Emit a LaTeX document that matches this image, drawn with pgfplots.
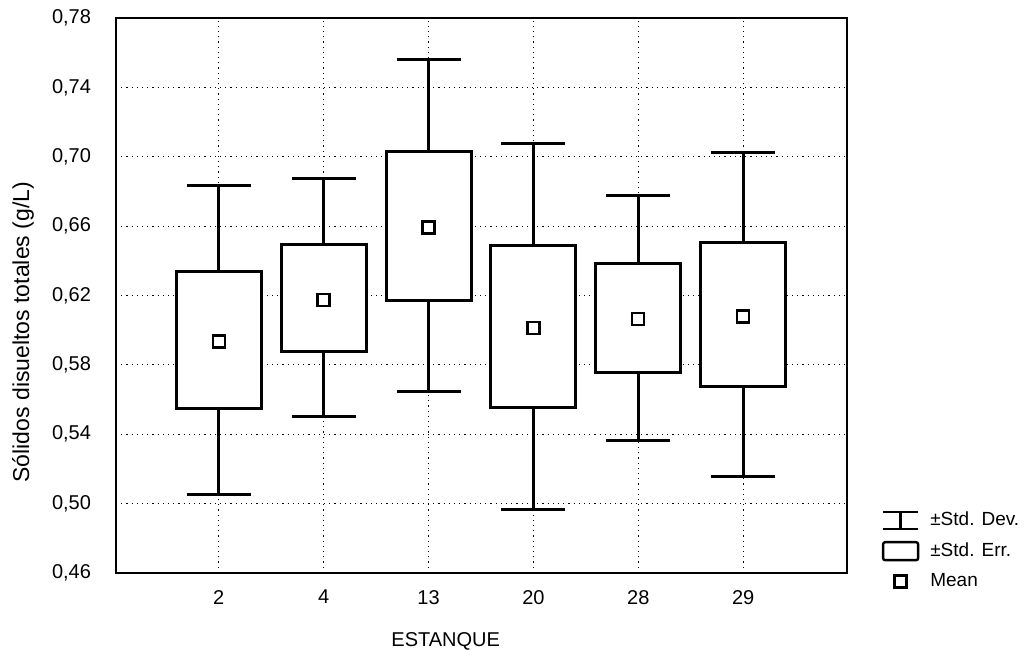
\documentclass[border=0pt]{standalone}
\usepackage{fontspec}
\setmainfont{Liberation Sans}
\usepackage{pgfplots}
\pgfplotsset{compat=1.18}
\usepgfplotslibrary{statistics}

\begin{document}
\begin{tikzpicture}
% page frame
\path[use as bounding box] (-58pt,-38pt) rectangle (457.5pt,286.5pt);
\begin{axis}[
  scale only axis,
  width=365.5pt, height=277.5pt,
  xmin=-0.98, xmax=5.99,
  ymin=0.46, ymax=0.78,
  xtick={0,1,2,3,4,5},
  xticklabels={2,4,13,20,28,29},
  ytick={0.46,0.50,0.54,0.58,0.62,0.66,0.70,0.74,0.78},
  /pgf/number format/assume math mode=true,
  yticklabel style={/pgf/number format/fixed, /pgf/number format/fixed zerofill,
    /pgf/number format/precision=2, /pgf/number format/use comma, xshift=-9pt},
  xticklabel style={yshift=-5pt},
  tick style={draw=none},
  tick label style={font=\fontsize{10}{12}\selectfont},
  grid=major,
  major grid style={black, line width=0.6pt, dotted},
  axis line style={line width=1pt},
  xlabel={ESTANQUE},
  ylabel={Sólidos disueltos totales (g/L)},
  xlabel style={font=\fontsize{10}{12}\selectfont, at={(axis description cs:0.451,0)}, anchor=north, yshift=-26pt},
  ylabel style={font=\fontsize{11.5}{13}\selectfont, at={(axis description cs:-0.127,0.434)}, anchor=center},
  legend cell align=left,
  legend style={at={(axis description cs:1.039,0.125)}, anchor=north west, draw=none, fill=none,
    font=\fontsize{9.5}{11}\selectfont, row sep=3pt, column sep=3.5pt},
  boxplot/draw direction=y,
  boxplot/box extend=0.81,
  boxplot/whisker extend=0.61,
  boxplot/draw/median/.code={},
]
% mean +- std. err. (box) and mean +- std. dev. (whiskers) per pond
\addplot[forget plot, draw=black, fill=white, line width=1.5pt,
  boxplot prepared={draw position=0, lower whisker=0.5050, lower quartile=0.5550,
    median=0.5934, upper quartile=0.6340, upper whisker=0.6837}] coordinates {};
\addplot[forget plot, draw=black, fill=white, line width=1.5pt,
  boxplot prepared={draw position=1, lower whisker=0.5501, lower quartile=0.5880,
    median=0.6174, upper quartile=0.6495, upper whisker=0.6872}] coordinates {};
\addplot[forget plot, draw=black, fill=white, line width=1.5pt,
  boxplot prepared={draw position=2, lower whisker=0.5645, lower quartile=0.6174,
    median=0.6591, upper quartile=0.7029, upper whisker=0.7562}] coordinates {};
\addplot[forget plot, draw=black, fill=white, line width=1.5pt,
  boxplot prepared={draw position=3, lower whisker=0.4967, lower quartile=0.5553,
    median=0.6011, upper quartile=0.6487, upper whisker=0.7078}] coordinates {};
\addplot[forget plot, draw=black, fill=white, line width=1.5pt,
  boxplot prepared={draw position=4, lower whisker=0.5363, lower quartile=0.5757,
    median=0.6065, upper quartile=0.6386, upper whisker=0.6779}] coordinates {};
\addplot[forget plot, draw=black, fill=white, line width=1.5pt,
  boxplot prepared={draw position=5, lower whisker=0.5155, lower quartile=0.5678,
    median=0.6078, upper quartile=0.6507, upper whisker=0.7026}] coordinates {};
% means
\addplot[forget plot, only marks, mark=square, mark size=3pt,
  mark options={line width=1.2pt, draw=black, fill=white}]
  coordinates {(0,0.5934) (1,0.6174) (2,0.6591) (3,0.6011) (4,0.6065) (5,0.6078)};

\addlegendimage{legend image code/.code={
  \draw[black, line width=1.2pt] (0pt,4.25pt) -- (17.5pt,4.25pt)
    (8.75pt,4.25pt) -- (8.75pt,-4.25pt) (0pt,-4.25pt) -- (17.5pt,-4.25pt);}}
\addlegendentry{±Std. Dev.}
\addlegendimage{legend image code/.code={
  \draw[black, line width=1.2pt, rounded corners=1pt] (0pt,-4.5pt) rectangle (17.5pt,4.5pt);}}
\addlegendentry{±Std. Err.}
\addlegendimage{legend image code/.code={
  \draw[black, line width=1.2pt] (5.75pt,-3pt) rectangle (11.75pt,3pt);}}
\addlegendentry{Mean}
\end{axis}
\end{tikzpicture}
\end{document}
